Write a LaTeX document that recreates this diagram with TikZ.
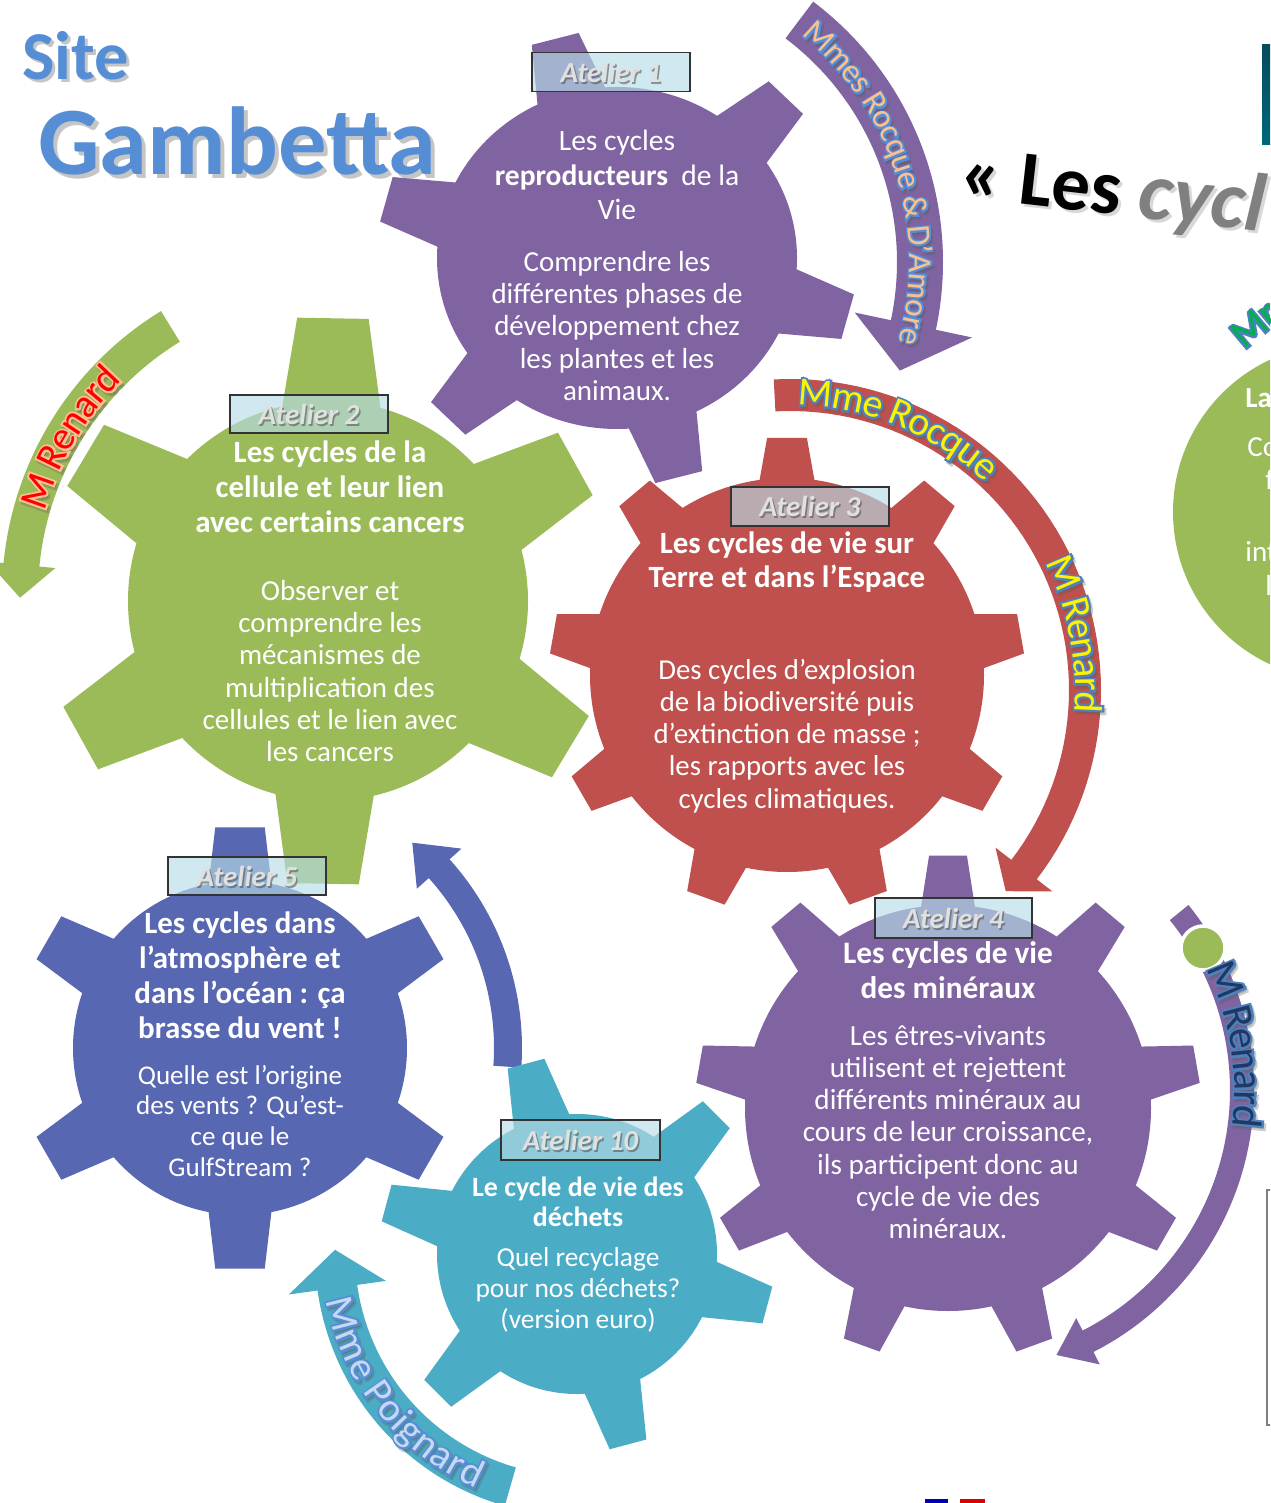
\documentclass[tikz,border=0pt]{standalone}
\usepackage{fontspec}
\setmainfont{Carlito}
\newfontfamily\outlfont{Carlito}[FakeBold=10]
\usetikzlibrary{decorations.text}
\definecolor{gpurple}{HTML}{8064A2}
\definecolor{ggreen}{HTML}{9BBB59}
\definecolor{gred}{HTML}{C0504D}
\definecolor{gblue}{HTML}{5867B1}
\definecolor{gteal}{HTML}{4BACC6}
\definecolor{titleblue}{HTML}{558ED5}
\definecolor{labelfill}{RGB}{183,220,230}
\definecolor{olblue}{HTML}{4F81BD}
\definecolor{olblue2}{HTML}{558ED5}
\definecolor{peach}{HTML}{FAC090}
\definecolor{navytxt}{HTML}{1F3864}
\definecolor{lavtxt}{HTML}{C6D9F1}
\definecolor{mrgreen}{HTML}{00B050}
\definecolor{bartop}{HTML}{074A5E}
\definecolor{barbot}{HTML}{00677C}
\definecolor{shd}{RGB}{90,90,90}
\newcommand\setfs[2]{\fontsize{#1}{#2}\selectfont}
% gear: [scope opts]{cx}{cy}{r}{R}{N}{offset}{base half angle}{tip half angle}
\newcommand\mygear[9][]{%
 \begin{scope}[shift={(#2,#3)},#1]
  \fill (0,0) circle (#4);
  \foreach \k in {1,...,#6}{%
   \pgfmathsetmacro\ang{#7+(\k-1)*360/#6}%
   \pgfmathsetmacro\aa{\ang-#8}\pgfmathsetmacro\ab{\ang-#9}%
   \pgfmathsetmacro\ac{\ang+#9}\pgfmathsetmacro\ad{\ang+#8}%
   \pgfmathsetmacro\rb{#4-10}%
   \fill (\aa:\rb) -- (\ab:#5) -- (\ac:#5) -- (\ad:\rb) -- cycle;}
 \end{scope}}
% curved arrow: cx cy rmid halfwidth a0 a1 headhalf headangle color
\newcommand\myarrow[9]{%
 \fill[#9] plot[domain=#5:#6,samples=60] ({#1+(#3+#4)*cos(\x)},{#2+(#3+#4)*sin(\x)})
  -- ({#1+(#3+#7)*cos(#6)},{#2+(#3+#7)*sin(#6)})
  -- ({#1+#3*cos((#6)+(#8))},{#2+#3*sin((#6)+(#8))})
  -- ({#1+(#3-#7)*cos(#6)},{#2+(#3-#7)*sin(#6)})
  -- plot[domain=#6:#5,samples=60] ({#1+(#3-#4)*cos(\x)},{#2+(#3-#4)*sin(\x)}) -- cycle;}
\tikzset{
 arct/.style n args={4}{decorate,decoration={text along path,text align=center,raise=#1,text color=#2,text={|#3|#4}}},
 gt/.style={text=white,align=center,inner sep=0pt},
 albl/.style={draw=black!80,line width=1.1pt,fill=labelfill,fill opacity=0.65,draw opacity=1,inner sep=0pt,minimum width=3.16cm,minimum height=0.78cm},
 ltxt/.style={font=\bfseries\itshape\setfs{16.5}{16.5},text=white!88!black,inner sep=0pt},
 lshd/.style={font=\bfseries\itshape\setfs{16.5}{16.5},text=black!70,text opacity=0.55,inner sep=0pt},
 frag/.style={text=white,inner sep=0pt,anchor=base west,font=\setfs{16.5}{18}},
}
\begin{document}
\begin{tikzpicture}[x=0.02cm,y=-0.02cm]
\useasboundingbox (0,0) rectangle (1270,1503);
\clip (0,0) rectangle (1270,1503);

% ---------- arrows ----------
\myarrow{617}{262}{303}{23}{307}{372}{60}{9}{gpurple}
\myarrow{790}{690}{295}{16}{267}{397.5}{36}{5.5}{gred}
\myarrow{335}{595}{315}{18}{238.5}{185.5}{34}{-6}{ggreen}
\myarrow{960}{1090}{282}{12}{321}{423}{26}{7}{gpurple}
\myarrow{577}{1254}{242}{20}{106}{172}{49}{9}{gteal}
\myarrow{240}{1048}{268}{14}{4}{-42}{30}{-8}{gblue}

% ---------- gears ----------
\mygear[fill=gpurple,yscale=0.95]{617}{258}{180}{240}{6}{15}{12.5}{5.8}
\mygear[fill=ggreen]{328}{601}{200}{285}{6}{31}{15.5}{7.2}
\mygear[fill=gred]{787}{675}{197}{238}{9}{30}{9}{4.8}
\mygear[fill=gpurple]{948}{1108}{203}{253}{9}{30}{8.5}{4.3}
\mygear[fill=gblue]{240}{1048}{167}{222}{6}{30}{12}{6.4}
\mygear[fill=gteal]{577}{1254}{140}{198}{6}{15}{13.5}{5.5}

% right green disc
\fill[ggreen] (1341,512) circle (168);
\node[frag,font=\bfseries\setfs{16.5}{18}] (fa) at (1245,407) {La};
\node[frag] (fb) at (1247,456) {Co};
\node[frag] (fc) at (1265,489) {f};
\node[frag] (fd) at (1245,561) {int};
\node[frag] (fe) at (1265,595) {l};

% green dot on right arrow
\filldraw[fill=ggreen,draw=white,line width=2pt] (1203,948) circle (22);

% ---------- gear texts ----------
\node[gt,font=\setfs{16.8}{19.8}] (g1a) at (617,175) {Les cycles\\\textbf{reproducteurs}\ \ de la\\Vie};
\node[gt,font=\setfs{16.5}{18.3}] (g1b) at (617,326) {Comprendre les\\différentes phases de\\développement chez\\les plantes et les\\animaux.};
\node[gt,font=\bfseries\setfs{17.6}{19.8}] (g2a) at (330,487) {Les cycles de la\\cellule et leur lien\\avec certains cancers};
\node[gt,font=\setfs{16.5}{18.4}] (g2b) at (330,671) {Observer et\\comprendre les\\mécanismes de\\multiplication des\\cellules et le lien avec\\les cancers};
\node[gt,font=\bfseries\setfs{17.6}{19.8}] (g3a) at (787,562) {Les cycles de vie sur\\Terre et dans l’Espace};
\node[gt,font=\setfs{16.4}{18.3}] (g3b) at (787,736) {Des cycles d’explosion\\de la biodiversité puis\\d’extinction de masse ;\\les rapports avec les\\cycles climatiques.};
\node[gt,font=\bfseries\setfs{17.8}{19.8}] (g4a) at (948,970) {Les cycles de vie\\des minéraux};
\node[gt,font=\setfs{16.6}{18.3}] (g4b) at (948,1132) {Les êtres-vivants\\utilisent et rejettent\\différents minéraux au\\cours de leur croissance,\\ils participent donc au\\cycle de vie des\\minéraux.};
\node[gt,font=\bfseries\setfs{17.6}{20}] (g5a) at (240,975) {Les cycles dans\\l’atmosphère et\\dans l’océan : ça\\brasse du vent !};
\node[gt,font=\setfs{15.4}{17.6}] (g5b) at (240,1121) {Quelle est l’origine\\des vents ? Qu’est-\\ce que le\\GulfStream ?};
\node[gt,font=\bfseries\setfs{15.9}{17}] (g10a) at (578,1202) {Le cycle de vie des\\déchets};
\node[gt,font=\setfs{15.6}{17.6}] (g10b) at (578,1290) {Quel recyclage\\pour nos déchets?\\(version euro)};

% ---------- atelier labels ----------
\node[albl] (L1) at (611,72) {};
\node[lshd] (L1s) at ([shift={(1.5,2)}]L1.center) {Atelier 1};
\node[ltxt] (L1t) at (L1.center) {Atelier 1};
\node[albl,minimum height=0.76cm] (L2) at (309,414) {};
\node[lshd] (L2s) at ([shift={(1.5,2)}]L2.center) {Atelier 2};
\node[ltxt] (L2t) at (L2.center) {Atelier 2};
\node[albl] (L3) at (810,506.5) {};
\node[lshd] (L3s) at ([shift={(1.5,2)}]L3.center) {Atelier 3};
\node[ltxt] (L3t) at (L3.center) {Atelier 3};
\node[albl,minimum width=3.14cm,minimum height=0.8cm] (L4) at (953.5,918) {};
\node[lshd] (L4s) at ([shift={(1.5,2)}]L4.center) {Atelier 4};
\node[ltxt] (L4t) at (L4.center) {Atelier 4};
\node[albl,minimum height=0.76cm] (L5) at (247,876) {};
\node[lshd] (L5s) at ([shift={(1.5,2)}]L5.center) {Atelier 5};
\node[ltxt] (L5t) at (L5.center) {Atelier 5};
\node[albl,minimum width=3.18cm,minimum height=0.8cm] (L10) at (580.5,1140) {};
\node[lshd] (L10s) at ([shift={(1.5,2)}]L10.center) {Atelier 10};
\node[ltxt] (L10t) at (L10.center) {Atelier 10};

% ---------- arc texts (shadow, outline, fill) ----------
\begin{scope}[shift={(2,3)},opacity=0.3]
\path[arct={-6pt}{shd}{\outlfont\setfs{19}{19}}{Mmes Rocque {\&} D'Amore}] plot[domain=297.5:387.5,samples=90] ({617+303*cos(\x)},{262+303*sin(\x)});
\path[arct={-7.3pt}{shd}{\outlfont\setfs{22.7}{22.7}}{Mme Rocque}] plot[domain=262.4:322.4,samples=90] ({790+298*cos(\x)},{690+298*sin(\x)});
\path[arct={-7.3pt}{shd}{\outlfont\setfs{22.7}{22.7}}{M Renard}] plot[domain=319:379,samples=90] ({790+298*cos(\x)},{690+298*sin(\x)});
\path[arct={-7.3pt}{shd}{\outlfont\setfs{22.7}{22.7}}{M Renard}] plot[domain=180.7:240.7,samples=90] ({335+315*cos(\x)},{595+315*sin(\x)});
\path[arct={-7.7pt}{shd}{\outlfont\setfs{24}{24}}{M Renard}] plot[domain=320.7:380.7,samples=90] ({960+288*cos(\x)},{1090+288*sin(\x)});
\path[arct={-7.3pt}{shd}{\outlfont\setfs{22.7}{22.7}}{Mme Poignard}] plot[domain=181.5:101.5,samples=90] ({577+242*cos(\x)},{1254+242*sin(\x)});
\end{scope}

\path[arct={-6pt}{olblue2}{\outlfont\setfs{19}{19}}{Mmes Rocque {\&} D'Amore}] plot[domain=297.5:387.5,samples=90] ({617+303*cos(\x)},{262+303*sin(\x)});
\path[arct={-6pt}{peach}{\setfs{19}{19}}{Mmes Rocque {\&} D'Amore}] plot[domain=297.5:387.5,samples=90] ({617+303*cos(\x)},{262+303*sin(\x)});

\path[arct={-7.3pt}{olblue}{\outlfont\setfs{22.7}{22.7}}{Mme Rocque}] plot[domain=262.4:322.4,samples=90] ({790+298*cos(\x)},{690+298*sin(\x)});
\path[arct={-7.3pt}{yellow}{\setfs{22.7}{22.7}}{Mme Rocque}] plot[domain=262.4:322.4,samples=90] ({790+298*cos(\x)},{690+298*sin(\x)});
\path[arct={-7.3pt}{olblue}{\outlfont\setfs{22.7}{22.7}}{M Renard}] plot[domain=319:379,samples=90] ({790+298*cos(\x)},{690+298*sin(\x)});
\path[arct={-7.3pt}{yellow}{\setfs{22.7}{22.7}}{M Renard}] plot[domain=319:379,samples=90] ({790+298*cos(\x)},{690+298*sin(\x)});

\path[arct={-7.3pt}{peach}{\outlfont\setfs{22.7}{22.7}}{M Renard}] plot[domain=180.7:240.7,samples=90] ({335+315*cos(\x)},{595+315*sin(\x)});
\path[arct={-7.3pt}{red}{\setfs{22.7}{22.7}}{M Renard}] plot[domain=180.7:240.7,samples=90] ({335+315*cos(\x)},{595+315*sin(\x)});

\path[arct={-7.7pt}{olblue}{\outlfont\setfs{24}{24}}{M Renard}] plot[domain=320.7:380.7,samples=90] ({960+288*cos(\x)},{1090+288*sin(\x)});
\path[arct={-7.7pt}{navytxt}{\setfs{24}{24}}{M Renard}] plot[domain=320.7:380.7,samples=90] ({960+288*cos(\x)},{1090+288*sin(\x)});

\path[arct={-7.3pt}{olblue2}{\outlfont\setfs{22.7}{22.7}}{Mme Poignard}] plot[domain=181.5:101.5,samples=90] ({577+242*cos(\x)},{1254+242*sin(\x)});
\path[arct={-7.3pt}{lavtxt}{\setfs{22.7}{22.7}}{Mme Poignard}] plot[domain=181.5:101.5,samples=90] ({577+242*cos(\x)},{1254+242*sin(\x)});

\node[inner sep=0pt,anchor=base west,rotate=40,text=olblue,font=\outlfont\setfs{22.7}{22.7}] (mr1) at (1244,350) {Mr};
\node[inner sep=0pt,anchor=base west,rotate=40,text=mrgreen,font=\setfs{22.7}{22.7}] (mr2) at (1244,350) {Mr};

% ---------- titles ----------
\node[inner sep=0pt,anchor=base west,text=black!45,text opacity=0.5,font=\bfseries\setfs{39}{39}] (site s) at (25,83) {Site};
\node[inner sep=0pt,anchor=base west,text=titleblue,font=\bfseries\setfs{39}{39}] (site) at (22,80) {Site};
\node[inner sep=0pt,anchor=base west,text=black!45,text opacity=0.5,font=\bfseries\setfs{55}{55}] (gamb s) at (42,179) {Gambetta};
\node[inner sep=0pt,anchor=base west,text=titleblue,font=\bfseries\setfs{55}{55}] (gamb) at (38,175) {Gambetta};

\node[inner sep=0pt,anchor=base west,rotate=-6.5,font=\bfseries\setfs{44}{44},text=black!30,text opacity=0.5] (cyc s) at (961,200) {« Les {\itshape\fontsize{47}{47}\selectfont cycl}};
\node[inner sep=0pt,anchor=base west,rotate=-6.5,font=\bfseries\setfs{44}{44}] (cyc) at (958,197) {« Les {\itshape\fontsize{47}{47}\selectfont\color{black!50}cycl}};

\shade[top color=bartop,bottom color=barbot] (1262,45) rectangle (1275,145);
\draw[black!50,line width=0.8pt] (1267,1190) rectangle (1290,1425);
\fill[blue!70!black] (925,1499) rectangle (948,1503);
\fill[red!85!black] (960,1499) rectangle (985,1503);
\end{tikzpicture}
\end{document}
